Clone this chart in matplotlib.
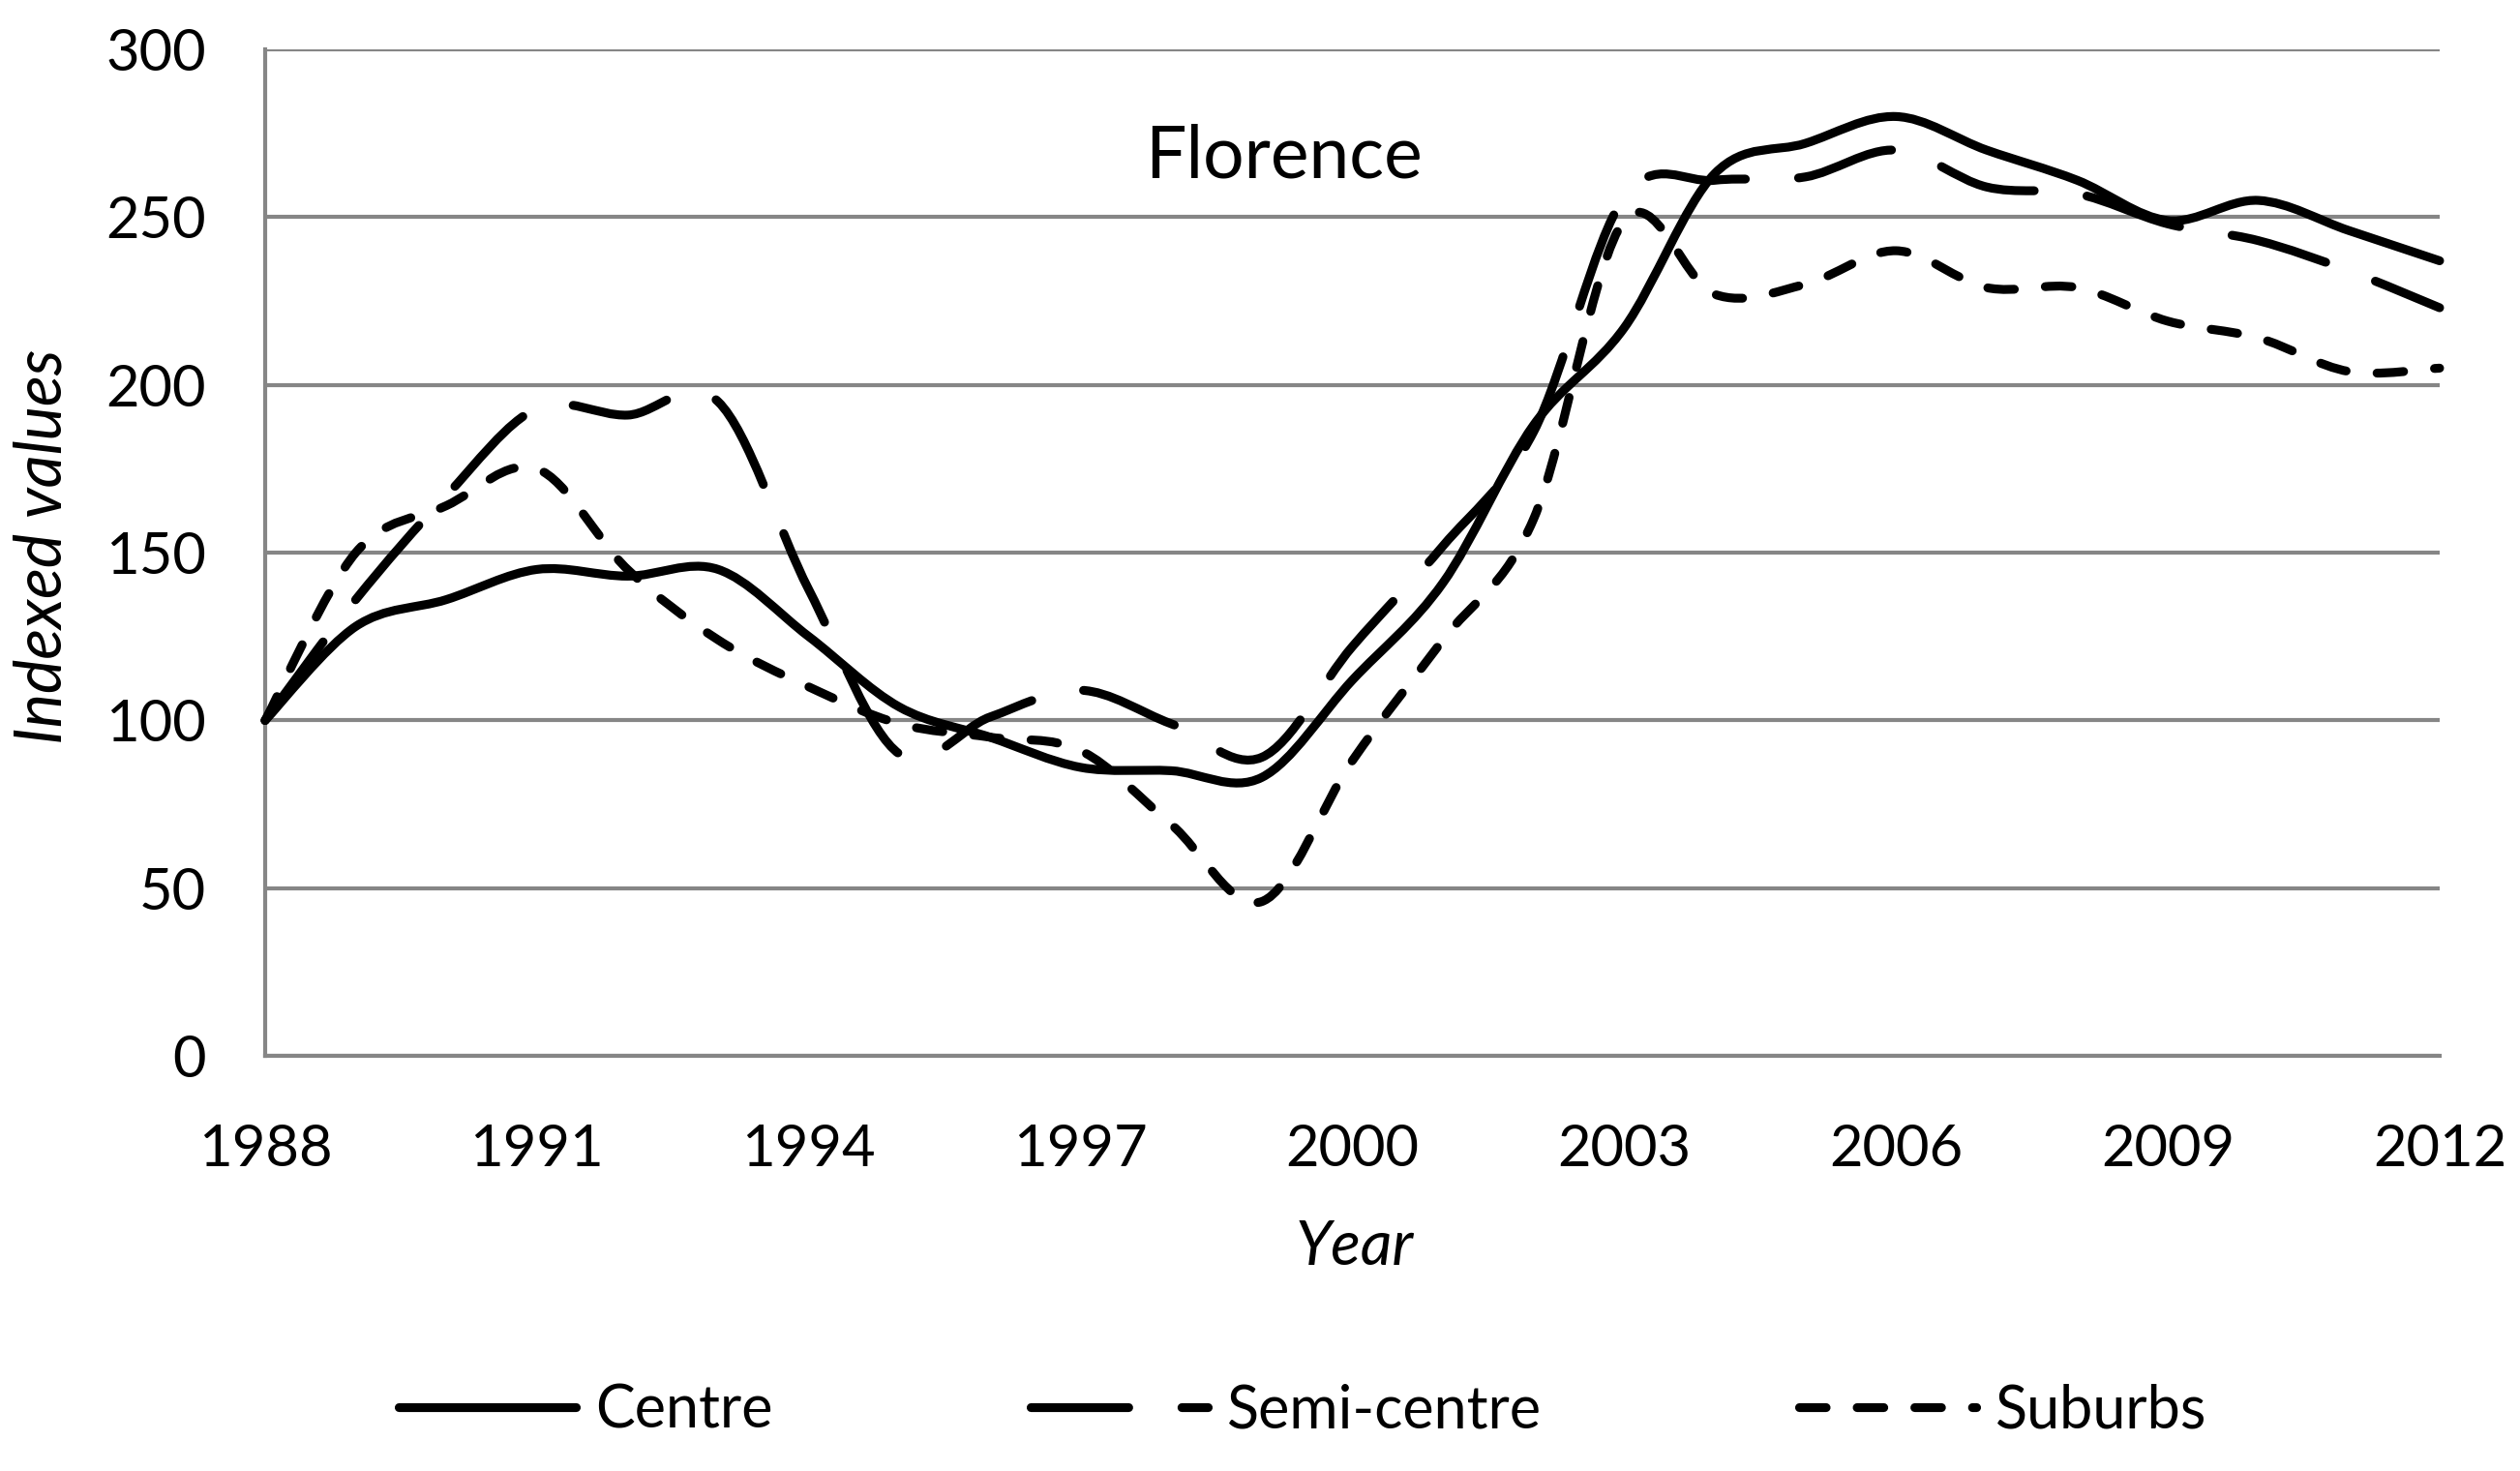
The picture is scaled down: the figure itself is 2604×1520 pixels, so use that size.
import numpy as np
import matplotlib
matplotlib.use('Agg')
import matplotlib.pyplot as plt
from matplotlib.path import Path
from matplotlib.patches import PathPatch
from matplotlib.lines import Line2D

plt.rcParams['font.family'] = ['Lato', 'DejaVu Sans']

#Data (indexed, 1988 = 100)
years = list(range(1988, 2013))
centre = [100, 128, 136, 145, 143, 145, 125, 104, 95, 86, 85, 83, 112,
          141, 188, 217, 263, 272, 280, 270, 261, 249, 255, 246, 237]
semi_centre = [100, 136, 167, 193, 191, 195, 139, 90, 101, 109, 99, 89, 122,
               152, 186, 256, 261, 262, 270, 259, 257, 248, 243, 234, 223]
suburbs = [100, 150, 164, 175, 145, 124, 110, 99, 95, 91, 69, 46, 88,
           124, 160, 249, 227, 230, 240, 229, 229, 219, 214, 204, 205]

series_names = ['Centre', 'Semi-centre', 'Suburbs']
x_ticks = [1988, 1991, 1994, 1997, 2000, 2003, 2006, 2009, 2012]
y_ticks = [0, 50, 100, 150, 200, 250, 300]

#Line styles
line_styles = ['-', (0, (11, 6)), (0, (3, 3.5))]
lw = 3.3
grid_col = '#868686'


def smooth_path(x, y):
    #Excel style smoothed line: cubic bezier segments through the points
    x = np.asarray(x, float)
    y = np.asarray(y, float)
    px = np.concatenate([[x[0]], x, [x[-1]]])
    py = np.concatenate([[y[0]], y, [y[-1]]])
    verts = [(x[0], y[0])]
    codes = [Path.MOVETO]
    for i in range(len(x) - 1):
        c1 = (x[i] + (px[i + 2] - px[i]) / 6, y[i] + (py[i + 2] - py[i]) / 6)
        c2 = (x[i + 1] - (px[i + 3] - px[i + 1]) / 6, y[i + 1] - (py[i + 3] - py[i + 1]) / 6)
        verts += [c1, c2, (x[i + 1], y[i + 1])]
        codes += [Path.CURVE4] * 3
    return Path(verts, codes)


fig = plt.figure(figsize=(13.02, 7.6), dpi=200)
ax = fig.add_axes([0.1052, 0.2822, 0.8629, 0.6842])

handles = []
for values, name, ls in zip([centre, semi_centre, suburbs], series_names, line_styles):
    patch = PathPatch(smooth_path(years, values), fill=False, edgecolor='black',
                      lw=lw, linestyle=ls, capstyle='round', joinstyle='round',
                      clip_on=False, zorder=3)
    ax.add_patch(patch)
    handles.append(Line2D([], [], color='black', lw=lw, linestyle=ls,
                          dash_capstyle='round', solid_capstyle='round', label=name))

ax.set_xlim(1988, 2012)
ax.set_ylim(0, 300)
ax.set_xticks(x_ticks)
ax.set_yticks(y_ticks)
ax.tick_params(axis='both', length=0, labelsize=21.5, colors='black')
ax.tick_params(axis='x', pad=25)
ax.tick_params(axis='y', pad=22)

ax.set_axisbelow(True)
ax.grid(axis='y', color=grid_col, lw=1.5)
for side in ['top', 'right']:
    ax.spines[side].set_visible(False)
for side in ['left', 'bottom']:
    ax.spines[side].set_color(grid_col)
    ax.spines[side].set_linewidth(1.5)

ax.set_xlabel('Year', fontsize=23, style='italic', va='center')
ax.xaxis.set_label_coords(0.501, -0.19)
ax.set_ylabel('Indexed values', fontsize=24, style='italic', va='center', ha='center')
ax.yaxis.set_label_coords(-0.102, 0.506)

ax.text(1999.24, 268, 'Florence', fontsize=27, ha='center', va='center')

fig.legend(handles=handles, loc='center', bbox_to_anchor=(0.517, 0.041), ncol=3,
           frameon=False, fontsize=22, handlelength=3.0, handletextpad=0.33,
           columnspacing=4.35)

fig.savefig('out.png', dpi=200)
